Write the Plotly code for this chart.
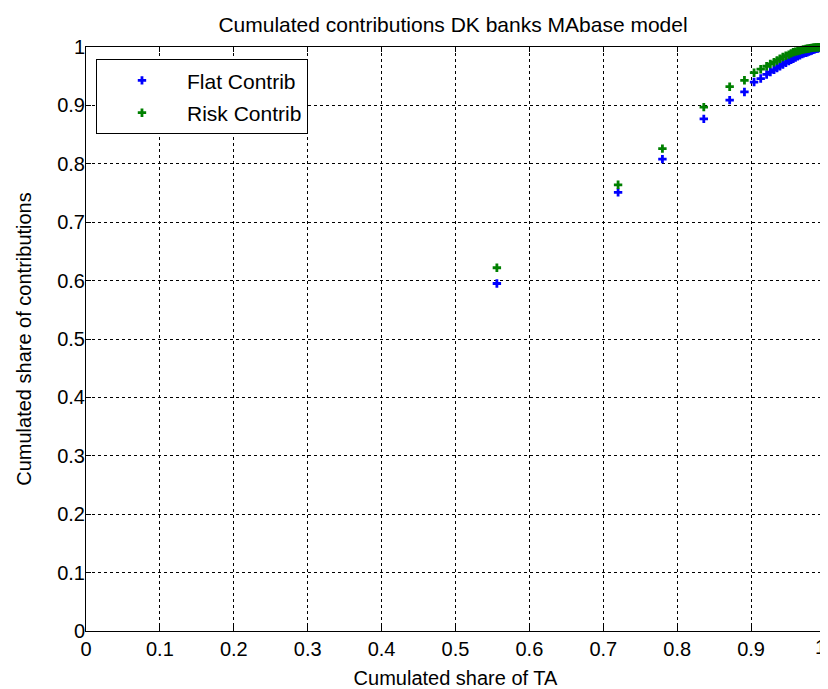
import plotly.graph_objects as go

# Cumulated share of total assets (x) and of contributions (y)
ta_share = [0.556, 0.720, 0.780, 0.836, 0.871, 0.891, 0.904, 0.913,
            0.921, 0.926, 0.931, 0.935, 0.939, 0.943, 0.947, 0.951, 0.954, 0.957,
            0.960, 0.963, 0.966, 0.969, 0.971, 0.974, 0.976, 0.978, 0.980, 0.982,
            0.984, 0.986, 0.988, 0.990, 0.992, 0.994, 0.996, 0.998, 1.000]

flat_contrib = [0.595, 0.751, 0.808, 0.877, 0.909, 0.923, 0.940, 0.946,
                0.953, 0.957, 0.961, 0.964, 0.967, 0.970, 0.973, 0.976, 0.978, 0.980,
                0.982, 0.984, 0.986, 0.988, 0.989, 0.990, 0.991, 0.992, 0.993, 0.994,
                0.995, 0.996, 0.997, 0.9975, 0.998, 0.9985, 0.999, 0.9995, 1.000]

risk_contrib = [0.622, 0.764, 0.826, 0.897, 0.932, 0.943, 0.956, 0.962,
                0.967, 0.971, 0.974, 0.977, 0.980, 0.983, 0.985, 0.987, 0.989, 0.991,
                0.992, 0.993, 0.994, 0.995, 0.996, 0.9965, 0.997, 0.9975, 0.998, 0.9985,
                0.999, 0.9992, 0.9994, 0.9996, 0.9997, 0.9998, 0.9999, 1.000, 1.000]

ticks = [0, 0.1, 0.2, 0.3, 0.4, 0.5, 0.6, 0.7, 0.8, 0.9, 1]
tick_text = ["0", "0.1", "0.2", "0.3", "0.4", "0.5", "0.6", "0.7", "0.8", "0.9", "1"]

font = "Liberation Sans, Arial, sans-serif"

fig = go.Figure()
fig.add_trace(go.Scatter(
    x=ta_share, y=flat_contrib, mode="markers", name="Flat Contrib", legendgroup="flat",
    marker=dict(symbol="cross", size=7, color="#0000ff"), cliponaxis=False
))
fig.add_trace(go.Scatter(
    x=ta_share, y=risk_contrib, mode="markers", name="Risk Contrib", legendgroup="risk",
    marker=dict(symbol="cross", size=7, color="#008000"), cliponaxis=False
))

axis_style = dict(
    range=[0, 1], tickvals=ticks,
    showgrid=True, gridcolor="black", gridwidth=1, griddash="dot",
    zeroline=False, showline=True, linecolor="black", linewidth=1, mirror="ticks",
    ticks="inside", ticklen=5, tickcolor="black", automargin=False,
    tickfont=dict(family=font, size=20, color="black"),
)

# last x tick label sits on the page edge: drawn as a right-anchored annotation instead
fig.update_xaxes(**axis_style, ticktext=tick_text[:-1] + [""],
                 title=dict(text="Cumulated share of TA", font=dict(family=font, size=20, color="black"), standoff=11))
fig.update_yaxes(**axis_style, ticktext=tick_text, ticklabelstandoff=-4,
                 title=dict(text="Cumulated share of contributions", font=dict(family=font, size=20, color="black"), standoff=20))

fig.add_annotation(x=ticks[-1], y=0, xref="x", yref="paper", text=tick_text[-1],
                   showarrow=False, xanchor="right", yanchor="top", xshift=3, yshift=-3,
                   font=dict(family=font, size=20, color="black"))

# page body has an 8px margin, so the figure is sized/offset to compensate
fig.update_layout(
    width=820, height=681,
    paper_bgcolor="white", plot_bgcolor="white",
    margin=dict(l=78, r=3, t=39, b=58),
    title=dict(text="Cumulated contributions DK banks MAbase model",
               xref="container", x=0.5427, xanchor="center",
               yref="container", y=0.975, yanchor="middle",
               font=dict(family=font, size=21, color="black")),
    legend=dict(x=0.0135, y=0.979, xanchor="left", yanchor="top",
                bgcolor="white", bordercolor="black", borderwidth=1,
                font=dict(family=font, size=21, color="black"),
                itemwidth=80, tracegroupgap=2),
    showlegend=True,
)

fig.write_html("out.html")
